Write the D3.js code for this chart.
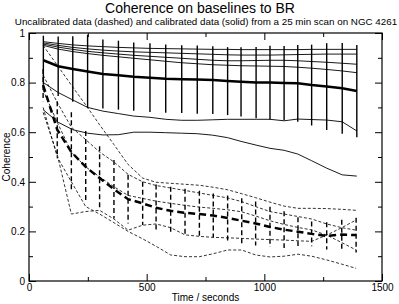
<!DOCTYPE html>
<html>
<head>
<meta charset="utf-8">
<script src="https://cdn.jsdelivr.net/npm/d3@7"></script>
<style>
  body { margin: 0; background: #fff; }
  text { font-family: "Liberation Sans", Arial, sans-serif; fill: #000; }
</style>
</head>
<body>
<svg id="chart" width="399" height="304"></svg>
<script>
// calibrated (solid) sample times and baselines
let calTimes = [61,124,186,249,314,380,445,514,581,649,715,781,844,901,965,1024,1084,1142,1201,1265,1331,1393]
let calA = [0.965,0.958,0.952,0.948,0.945,0.942,0.94,0.938,0.937,0.936,0.935,0.934,0.934,0.933,0.933,0.933,0.933,0.933,0.934,0.934,0.934,0.934]
let calB = [0.96,0.95,0.942,0.936,0.931,0.927,0.924,0.922,0.92,0.918,0.916,0.914,0.912,0.911,0.911,0.911,0.912,0.913,0.914,0.915,0.915,0.915]
let calC = [0.955,0.943,0.934,0.926,0.92,0.915,0.91,0.906,0.902,0.898,0.894,0.89,0.888,0.888,0.889,0.89,0.89,0.888,0.885,0.882,0.878,0.874]
let calD = [0.95,0.935,0.925,0.917,0.91,0.904,0.898,0.892,0.886,0.88,0.876,0.872,0.87,0.868,0.867,0.866,0.865,0.862,0.858,0.853,0.847,0.84]
let calE = [0.80,0.76,0.73,0.70,0.685,0.675,0.665,0.66,0.652,0.648,0.648,0.65,0.652,0.652,0.652,0.652,0.646,0.653,0.651,0.649,0.642,0.605]
let calF = [0.69,0.64,0.61,0.596,0.589,0.59,0.60,0.60,0.598,0.596,0.594,0.588,0.578,0.563,0.548,0.535,0.527,0.512,0.485,0.455,0.428,0.423]
let calMean = [0.89,0.866,0.855,0.845,0.835,0.83,0.824,0.82,0.816,0.814,0.812,0.81,0.806,0.803,0.80,0.80,0.798,0.797,0.79,0.784,0.777,0.766]
let calErr = [0.099,0.12,0.132,0.148,0.139,0.139,0.138,0.139,0.138,0.137,0.138,0.137,0.137,0.14,0.144,0.149,0.15,0.155,0.163,0.175,0.183,0.186]

// uncalibrated (dashed) sample times and baselines
let rawTimes = [60,120,180,241,300,361,421,483,540,602,663,724,783,844,904,963,1024,1084,1143,1201,1265,1329,1390]
let raw1 = [0.95,0.87,0.79,0.71,0.63,0.55,0.47,0.415,0.398,0.394,0.39,0.386,0.378,0.368,0.352,0.336,0.318,0.302,0.293,0.293,0.292,0.289,0.285]
let raw2 = [0.77,0.64,0.52,0.46,0.42,0.38,0.345,0.333,0.322,0.313,0.305,0.298,0.293,0.287,0.279,0.262,0.243,0.228,0.216,0.206,0.185,0.155,0.125]
let raw3 = [0.83,0.72,0.62,0.57,0.52,0.48,0.43,0.40,0.385,0.375,0.365,0.355,0.345,0.335,0.32,0.30,0.28,0.27,0.26,0.25,0.23,0.215,0.205]
let raw4 = [0.68,0.51,0.27,0.28,0.285,0.25,0.205,0.225,0.23,0.215,0.186,0.18,0.176,0.174,0.172,0.169,0.167,0.165,0.162,0.16,0.185,0.215,0.246]
let raw5 = [0.70,0.50,0.40,0.30,0.27,0.235,0.20,0.17,0.14,0.105,0.098,0.098,0.11,0.125,0.125,0.105,0.097,0.10,0.108,0.10,0.085,0.068,0.051]
let rawMean = [0.79,0.61,0.52,0.46,0.415,0.37,0.33,0.313,0.295,0.283,0.275,0.27,0.264,0.254,0.243,0.232,0.218,0.207,0.199,0.19,0.182,0.187,0.185]
let rawErr = [0.065,0.115,0.16,0.145,0.128,0.118,0.098,0.087,0.094,0.097,0.097,0.094,0.089,0.091,0.091,0.089,0.081,0.074,0.058,0.05,0.055,0.06,0.07]

let xMajor = [0, 500, 1000, 1500]
let xMinor = [250, 750, 1250]
let yMajor = [0, 0.2, 0.4, 0.6, 0.8, 1]
let yMinor = [0.1, 0.3, 0.5, 0.7, 0.9]

let width = 399;
let height = 304;
let margin = { top: 33, right: 17, bottom: 23, left: 29 };
let svg = d3.select("#chart")

let x = d3.scaleLinear()
    .domain([0, 1500])
    .range([margin.left, width - margin.right])

let y = d3.scaleLinear()
    .domain([0, 1])
    .range([height - margin.bottom, margin.top])

let fmt = d3.format("~g")

function drawAxis(axis, cls, tx, ty) {
  let g = svg.append("g")
    .attr("class", cls)
    .attr("transform", `translate(${tx},${ty})`)
    .call(axis)
  g.select(".domain").remove()
  g.selectAll("line").attr("stroke", "#000").attr("stroke-width", 1)
  g.selectAll("text").style("font-size", "10px").attr("fill", "#000")
  return g
}

let bottom = height - margin.bottom
let right = width - margin.right

drawAxis(d3.axisBottom(x).tickValues(xMajor).tickSize(-7).tickPadding(3).tickFormat(fmt), "x axis", 0, bottom)
drawAxis(d3.axisBottom(x).tickValues(xMinor).tickSize(-4).tickFormat(""), "x minor", 0, bottom)
drawAxis(d3.axisTop(x).tickValues(xMajor).tickSize(-7).tickFormat(""), "x top", 0, margin.top)
drawAxis(d3.axisTop(x).tickValues(xMinor).tickSize(-4).tickFormat(""), "x top minor", 0, margin.top)
drawAxis(d3.axisLeft(y).tickValues(yMajor).tickSize(-7).tickPadding(4).tickFormat(fmt), "y axis", margin.left, 0)
drawAxis(d3.axisLeft(y).tickValues(yMinor).tickSize(-4).tickFormat(""), "y minor", margin.left, 0)
drawAxis(d3.axisRight(y).tickValues(yMajor).tickSize(-7).tickFormat(""), "y right", right, 0)
drawAxis(d3.axisRight(y).tickValues(yMinor).tickSize(-4).tickFormat(""), "y right minor", right, 0)

// frame
svg.append("rect")
    .attr("x", margin.left)
    .attr("y", margin.top)
    .attr("width", right - margin.left)
    .attr("height", bottom - margin.top)
    .style("fill", "none")
    .style("stroke", "#000")
    .style("stroke-width", 1.2)

let line = d3.line()
    .x(d => x(d[0]))
    .y(d => y(d[1]))

function pairs(times, vals) {
  return times.map((t, i) => [t, vals[i]])
}

let plot = svg.append("g").attr("id", "lines")

// uncalibrated baselines
let rawSeries = [raw1, raw2, raw3, raw4, raw5]
plot.selectAll("path.raw")
    .data(rawSeries)
    .join("path")
    .attr("class", "raw")
    .attr("d", d => line(pairs(rawTimes, d)))
    .style("fill", "none")
    .style("stroke", "#000")
    .style("stroke-width", 0.8)
    .style("stroke-dasharray", "3,2")

// calibrated baselines
let calSeries = [calA, calB, calC, calD, calE, calF]
plot.selectAll("path.cal")
    .data(calSeries)
    .join("path")
    .attr("class", "cal")
    .attr("d", d => line(pairs(calTimes, d)))
    .style("fill", "none")
    .style("stroke", "#000")
    .style("stroke-width", 0.9)

// error bars
plot.selectAll("line.rawbar")
    .data(rawTimes)
    .join("line")
    .attr("class", "rawbar")
    .attr("x1", d => x(d))
    .attr("x2", d => x(d))
    .attr("y1", (d, i) => y(rawMean[i] + rawErr[i]))
    .attr("y2", (d, i) => y(rawMean[i] - rawErr[i]))
    .style("stroke", "#000")
    .style("stroke-width", 1.4)
    .style("stroke-dasharray", "5,3")

plot.selectAll("line.calbar")
    .data(calTimes)
    .join("line")
    .attr("class", "calbar")
    .attr("x1", d => x(d))
    .attr("x2", d => x(d))
    .attr("y1", (d, i) => y(calMean[i] + calErr[i]))
    .attr("y2", (d, i) => y(calMean[i] - calErr[i]))
    .style("stroke", "#000")
    .style("stroke-width", 1.4)

// means
plot.append("path")
    .attr("d", line(pairs(rawTimes, rawMean)))
    .style("fill", "none")
    .style("stroke", "#000")
    .style("stroke-width", 2.5)
    .style("stroke-dasharray", "7,4")

plot.append("path")
    .attr("d", line(pairs(calTimes, calMean)))
    .style("fill", "none")
    .style("stroke", "#000")
    .style("stroke-width", 2.5)

// titles
svg.append("text")
    .attr("x", 200)
    .attr("y", 13)
    .attr("text-anchor", "middle")
    .style("font-size", "14px")
    .text("Coherence on baselines to BR")

svg.append("text")
    .attr("x", 206)
    .attr("y", 25)
    .attr("text-anchor", "middle")
    .style("font-size", "9.8px")
    .text("Uncalibrated data (dashed) and calibrated data (solid) from a 25 min scan on NGC 4261")

svg.append("text")
    .attr("x", (margin.left + right) / 2)
    .attr("y", 301)
    .attr("text-anchor", "middle")
    .style("font-size", "10px")
    .text("Time / seconds")

svg.append("text")
    .attr("transform", `translate(10,${(margin.top + bottom) / 2}) rotate(-90)`)
    .attr("text-anchor", "middle")
    .style("font-size", "10px")
    .text("Coherence")
</script>
</body>
</html>
